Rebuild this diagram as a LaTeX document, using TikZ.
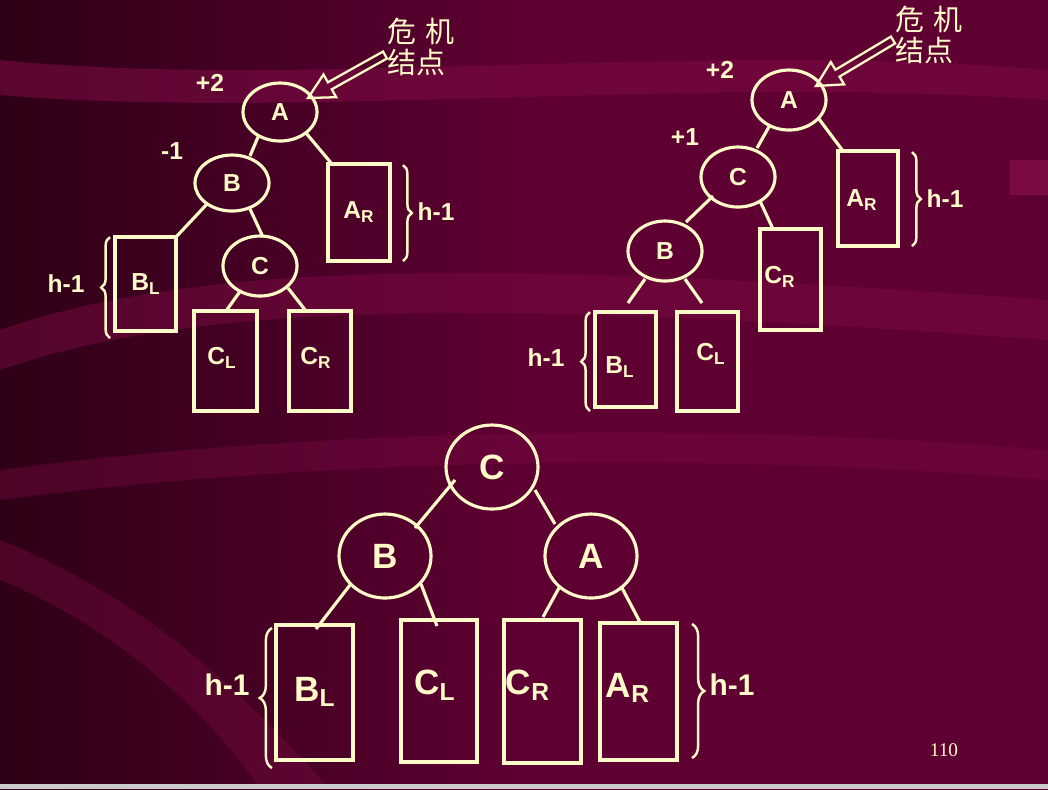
\documentclass[tikz,border=0pt]{standalone}
\usepackage{fontspec}
\setmainfont{Liberation Sans}
\newfontfamily\cjk{Noto Sans CJK SC}
\newfontfamily\serifnum{Liberation Serif}
\usetikzlibrary{calc,decorations.pathreplacing}
\definecolor{bg}{HTML}{5E0032}
\definecolor{bgdark}{HTML}{2E0016}
\definecolor{band}{HTML}{7A0A42}
\definecolor{cream}{HTML}{FFFAC8}
\newcommand{\hollowarrow}[3]{% name, tail, tip
  \coordinate (#1T) at #3; \coordinate (#1S) at #2;
  \coordinate (#1H) at ($(#1T)!0.5cm!(#1S)$);
  \draw[cream,line width=1.3pt,line join=miter]
    (#1T) -- ($(#1H)!0.26cm!90:(#1S)$) -- ($(#1H)!0.08cm!90:(#1S)$)
    -- ($(#1S)!0.08cm!-90:(#1H)$) -- ($(#1S)!0.08cm!90:(#1H)$)
    -- ($(#1H)!0.08cm!-90:(#1S)$) -- ($(#1H)!0.26cm!-90:(#1S)$) -- cycle;}
\begin{document}
\begin{tikzpicture}[x=0.02cm,y=-0.02cm,
  line/.style={cream,line width=1.8pt},
  box/.style={draw=cream,line width=1.8pt},
  lab/.style={text=cream,font=\bfseries\fontsize{14}{14}\selectfont},
  big/.style={text=cream,font=\bfseries\fontsize{20}{20}\selectfont},
  brc/.style={cream,line width=1.4pt,decorate,decoration={brace,amplitude=5pt}},
  cj/.style={text=cream,font=\cjk\fontsize{16.5}{18}\selectfont,align=left}]
% background
\shade[left color=bgdark,right color=bg,middle color=bg] (0,0) rectangle (1048,789);
\fill[band,opacity=0.6] (0,60) .. controls (300,90) and (700,40) .. (1048,70) -- (1048,100) .. controls (700,75) and (300,120) .. (0,95) -- cycle;
\fill[band,opacity=0.5] (0,330) .. controls (200,260) and (500,260) .. (1048,300) -- (1048,340) .. controls (500,300) and (200,300) .. (0,370) -- cycle;
\fill[band,opacity=0.4] (0,470) .. controls (300,430) and (700,420) .. (1048,450) -- (1048,480) .. controls (700,450) and (300,460) .. (0,500) -- cycle;
\fill[band,opacity=0.4] (0,540) .. controls (150,600) and (250,700) .. (330,789) -- (260,789) .. controls (200,700) and (100,620) .. (0,580) -- cycle;
\fill[band] (1010,160) rectangle (1048,195);
\fill[gray!40] (0,784) rectangle (1048,789);
% ---------- top-left tree
\draw[line] (280,112) ellipse (37 and 29) node[lab] (A1) {A};
\draw[line] (232,183) ellipse (37 and 28) node[lab] (B1) {B};
\draw[line] (260,266) ellipse (37 and 30) node[lab] (C1) {C};
\node[lab] at (210,83) {+2};
\node[lab] at (172,151) {-1};
\draw[box] (328,164) rectangle (390,261); \node[lab] (AR1) at (359,212) {A\textsubscript{R}};
\draw[box] (115,237) rectangle (176,331); \node[lab] (BL1) at (146,284) {B\textsubscript{L}};
\draw[box] (194,311) rectangle (257,411); \node[lab] (CL1) at (222,358) {C\textsubscript{L}};
\draw[box] (289,311) rectangle (351,411); \node[lab] (CR1) at (316,358) {C\textsubscript{R}};
\draw[line] (258,137) -- (250,156);
\draw[line] (306,133) -- (332,164);
\draw[line] (207,204) -- (176,237);
\draw[line] (250,209) -- (263,237);
\draw[line] (241,290) -- (226,311);
\draw[line] (288,288) -- (306,311);
\draw[brc] (110,338) -- (110,237);
\node[lab] at (66,284) {h-1};
\draw[brc] (403,165) -- (403,261);
\node[lab] at (436,212) {h-1};
\hollowarrow{a1}{(385,55)}{(308,98)}
\node[cj] at (421,47) {危\,\,机\\结点};
% ---------- top-right tree
\draw[line] (789,100) ellipse (37 and 30) node[lab] (A2) {A};
\draw[line] (738,177) ellipse (37 and 30) node[lab] (C2) {C};
\draw[line] (665,251) ellipse (37 and 30) node[lab] (B2) {B};
\node[lab] at (720,70) {+2};
\node[lab] at (685,137) {+1};
\draw[box] (838,151) rectangle (898,246); \node[lab] at (862,200) {A\textsubscript{R}};
\draw[box] (760,229) rectangle (821,330); \node[lab] at (780,277) {C\textsubscript{R}};
\draw[box] (595,312) rectangle (656,407); \node[lab] at (620,367) {B\textsubscript{L}};
\draw[box] (677,312) rectangle (738,411); \node[lab] at (711,354) {C\textsubscript{L}};
\draw[line] (770,125) -- (757,148);
\draw[line] (819,119) -- (843,151);
\draw[line] (713,196) -- (686,222);
\draw[line] (760,201) -- (773,229);
\draw[line] (645,279) -- (628,303);
\draw[line] (685,279) -- (702,303);
\draw[brc] (912,152) -- (912,246);
\node[lab] at (945,199) {h-1};
\draw[brc] (590,411) -- (590,312);
\node[lab] at (546,358) {h-1};
\hollowarrow{a2}{(893,40)}{(816,86)}
\node[cj] at (929,35) {危\,\,机\\结点};
% ---------- bottom tree
\draw[line] (492,467) ellipse (46 and 42) node[big] {C};
\draw[line] (385,556) ellipse (46 and 42) node[big] {B};
\draw[line] (591,556) ellipse (46 and 42) node[big] {A};
\draw[line] (455,480) -- (415,528);
\draw[line] (535,490) -- (555,524);
\draw[line] (350,585) -- (316,629);
\draw[line] (421,584) -- (437,626);
\draw[line] (560,586) -- (543,617);
\draw[line] (621,586) -- (641,624);
\draw[box] (276,625) rectangle (353,760); \node[big] at (315,692) {B\textsubscript{L}};
\draw[box] (401,620) rectangle (477,762); \node[big] at (435,685) {C\textsubscript{L}};
\draw[box] (504,620) rectangle (581,763); \node[big] at (528,685) {C\textsubscript{R}};
\draw[box] (600,623) rectangle (677,760); \node[big] at (628,688) {A\textsubscript{R}};
\draw[brc,decoration={brace,amplitude=7pt}] (272,768) -- (272,628);
\node[big,font=\bfseries\fontsize{17}{17}\selectfont] at (227,685) {h-1};
\draw[brc,decoration={brace,amplitude=7pt}] (692,624) -- (692,758);
\node[big,font=\bfseries\fontsize{17}{17}\selectfont] at (732,685) {h-1};
\node[text=cream,font=\serifnum\fontsize{11}{11}\selectfont] at (944,750) {110};
\end{tikzpicture}
\end{document}
